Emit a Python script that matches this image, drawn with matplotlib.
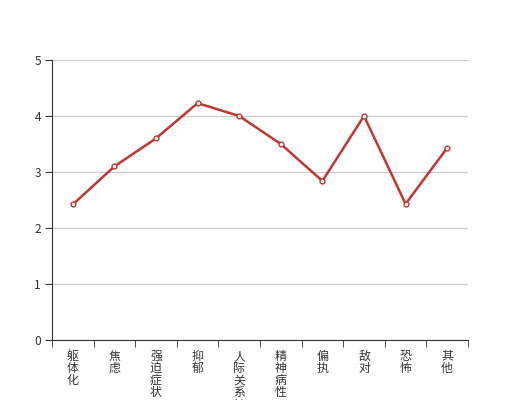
import matplotlib
matplotlib.use("Agg")
import matplotlib.pyplot as plt
import numpy as np

plt.rcParams['font.family'] = ['Noto Sans CJK SC', 'DejaVu Sans']

categories = ["躯体化", "焦虑", "强迫症状", "抑郁", "人际关系敏感",
              "精神病性", "偏执", "敌对", "恐怖", "其他"]
scores = [2.42, 3.10, 3.60, 4.23, 4.00, 3.50, 2.84, 4.00, 2.43, 3.43]
y_ticks = [0, 1, 2, 3, 4, 5]

line_color = "#c23531"
text_color = "#333333"

fig = plt.figure(figsize=(5.2, 4), dpi=100)
ax = fig.add_axes([52 / 520, 60 / 400, 416 / 520, 280 / 400])

x = np.arange(len(categories))
ax.plot(x, scores, color=line_color, linewidth=1.8, marker="o",
        markersize=3.5, markerfacecolor="white", markeredgecolor=line_color,
        markeredgewidth=1, zorder=3, clip_on=False)

ax.set_xlim(-0.5, len(categories) - 0.5)
ax.set_ylim(0, 5)
ax.set_yticks(y_ticks)
ax.grid(axis="y", color="#cccccc", linewidth=0.9)
ax.set_axisbelow(True)

for side in ["top", "right"]:
    ax.spines[side].set_visible(False)
ax.spines["left"].set_color(text_color)
ax.spines["bottom"].set_color(text_color)

ax.tick_params(axis="y", length=5, color=text_color, labelcolor=text_color,
               labelsize=8.6, pad=3)

# labels at band centers, ticks at band boundaries
ax.set_xticks(x)
ax.set_xticklabels(["\n".join(c) for c in categories], linespacing=0.92)
ax.set_xticks(np.arange(-0.5, len(categories)), minor=True)
ax.tick_params(axis="x", which="major", length=0, labelcolor=text_color,
               labelsize=8.6, pad=7)
ax.tick_params(axis="x", which="minor", length=5, color=text_color)
for lbl in ax.get_xticklabels():
    lbl.set_verticalalignment("top")

fig.savefig("out.png", dpi=100)
